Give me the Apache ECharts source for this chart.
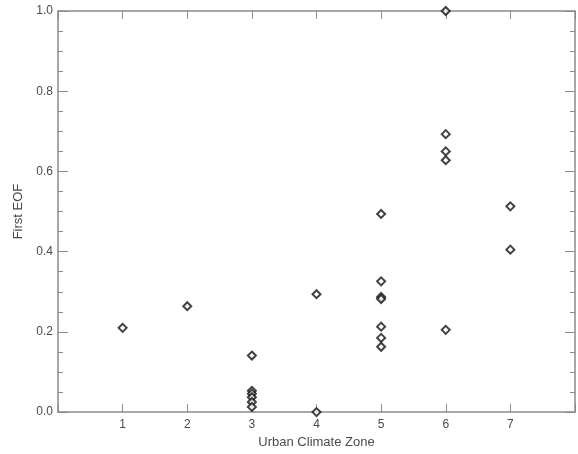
<!DOCTYPE html>
<html>
<head>
<meta charset="utf-8">
<script src="https://cdn.jsdelivr.net/npm/echarts@6/dist/echarts.min.js"></script>
<style>
  html, body { margin: 0; padding: 0; background: #fff; }
  #chart { width: 578px; height: 454px; }
</style>
</head>
<body>
<div id="chart"></div>
<script>
// EOF values, one list per urban climate zone
const zone1 = [0.21]
const zone2 = [0.264]
const zone3 = [0.141, 0.053, 0.046, 0.037, 0.025, 0.013]
const zone4 = [0.294, 0.0]
const zone5 = [0.494, 0.326, 0.287, 0.282, 0.213, 0.185, 0.163]
const zone6 = [1.0, 0.693, 0.65, 0.628, 0.205]
const zone7 = [0.513, 0.405]
const zones = [zone1, zone2, zone3, zone4, zone5, zone6, zone7]
const xTickLabels = ['1', '2', '3', '4', '5', '6', '7']

// flatten to [zone, value] pairs
const points = []
zones.forEach((vals, i) => {
  vals.forEach((v) => points.push([i + 1, v]))
})

const axisColor = '#8a8a8a'
const textColor = '#4a4a4a'
const font = 'Liberation Sans, Arial, sans-serif'

const chart = echarts.init(document.getElementById('chart'))
chart.setOption({
  animation: false,
  grid: { left: 58, right: 1, top: 11, bottom: 37 },
  xAxis: [
    {
      type: 'value',
      min: 0,
      max: 8,
      interval: 1,
      name: 'Urban Climate Zone',
      nameLocation: 'middle',
      nameGap: 22,
      nameTextStyle: { color: textColor, fontSize: 13, fontFamily: font },
      axisLine: { show: true, onZero: false, lineStyle: { color: axisColor, width: 1.5 } },
      axisTick: { show: true, inside: true, length: 8, lineStyle: { color: axisColor } },
      axisLabel: {
        color: textColor, fontSize: 12, fontFamily: font, margin: 7,
        formatter: (v) => xTickLabels[v - 1] || ''
      },
      splitLine: { show: false }
    },
    {
      type: 'value',
      position: 'top',
      min: 0,
      max: 8,
      interval: 1,
      axisLine: { show: true, onZero: false, lineStyle: { color: axisColor, width: 1.5 } },
      axisTick: { show: true, inside: true, length: 8, lineStyle: { color: axisColor } },
      axisLabel: { show: false },
      splitLine: { show: false }
    }
  ],
  yAxis: [
    {
      type: 'value',
      min: 0,
      max: 1,
      interval: 0.2,
      name: 'First EOF',
      nameLocation: 'middle',
      nameGap: 30,
      nameTextStyle: { color: textColor, fontSize: 13, fontFamily: font },
      axisLine: { show: true, onZero: false, lineStyle: { color: axisColor, width: 1.5 } },
      axisTick: { show: true, inside: true, length: 10, lineStyle: { color: axisColor } },
      minorTick: { show: true, splitNumber: 4, length: 5, lineStyle: { color: axisColor } },
      axisLabel: {
        color: textColor, fontSize: 12, fontFamily: font, margin: 5,
        formatter: (v) => v.toFixed(1)
      },
      splitLine: { show: false },
      minorSplitLine: { show: false }
    },
    {
      type: 'value',
      position: 'right',
      min: 0,
      max: 1,
      interval: 0.2,
      axisLine: { show: true, onZero: false, lineStyle: { color: axisColor, width: 1.5 } },
      axisTick: { show: true, inside: true, length: 10, lineStyle: { color: axisColor } },
      minorTick: { show: true, splitNumber: 4, length: 5, lineStyle: { color: axisColor } },
      axisLabel: { show: false },
      splitLine: { show: false },
      minorSplitLine: { show: false }
    }
  ],
  series: [
    {
      type: 'scatter',
      data: points,
      symbol: 'diamond',
      symbolSize: 8,
      clip: true,
      itemStyle: { color: '#fff', borderColor: '#111', borderWidth: 2 }
    }
  ]
})
</script>
</body>
</html>
